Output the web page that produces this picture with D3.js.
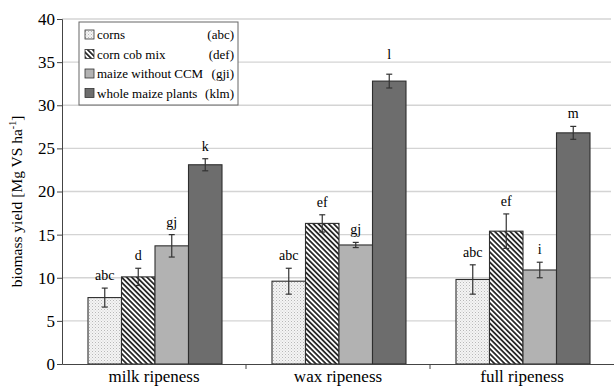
<!DOCTYPE html>
<html>
<head>
<meta charset="utf-8">
<script src="https://cdn.jsdelivr.net/npm/d3@7"></script>
<style>
  body { margin: 0; background: #fff; }
  text { font-family: "Liberation Serif", "DejaVu Serif", serif; fill: #000; }
</style>
</head>
<body>
<svg id="chart" width="614" height="388"></svg>
<script>
// data
const stages = ["milk ripeness", "wax ripeness", "full ripeness"];
const fractions = ["corns", "corn cob mix", "maize without CCM", "whole maize plants"];
const groupTags = ["(abc)", "(def)", "(gji)", "(klm)"];
const yieldCorns = [7.7, 9.6, 9.8];
const yieldCcm = [10.1, 16.3, 15.4];
const yieldMaize = [13.7, 13.8, 10.9];
const yieldWhole = [23.1, 32.8, 26.8];
const errCorns = [1.1, 1.5, 1.7];
const errCcm = [1.0, 1.0, 2.0];
const errMaize = [1.3, 0.3, 0.9];
const errWhole = [0.7, 0.8, 0.75];
const letters = [
  ["abc", "d", "gj", "k"],
  ["abc", "ef", "gj", "l"],
  ["abc", "ef", "i", "m"]
];
const yTicks = [0, 5, 10, 15, 20, 25, 30, 35, 40];

const values = [yieldCorns, yieldCcm, yieldMaize, yieldWhole];
const errors = [errCorns, errCcm, errMaize, errWhole];

const svg = d3.select("#chart");
const margin = { left: 62, right: 0, top: 19, bottom: 24 };
const W = 614, H = 388;

// fill patterns
const defs = svg.append("defs");
const dots = defs.append("pattern").attr("id", "dots")
  .attr("patternUnits", "userSpaceOnUse").attr("width", 3).attr("height", 3);
dots.append("rect").attr("width", 3).attr("height", 3).attr("fill", "#f4f4f4");
dots.append("rect").attr("x", 0).attr("y", 0).attr("width", 1).attr("height", 1).attr("fill", "#b8b8b8");
dots.append("rect").attr("x", 1.5).attr("y", 1.5).attr("width", 1).attr("height", 1).attr("fill", "#cfcfcf");

const stripes = defs.append("pattern").attr("id", "stripes")
  .attr("patternUnits", "userSpaceOnUse").attr("width", 3.6).attr("height", 3.6)
  .attr("patternTransform", "rotate(-45)");
stripes.append("rect").attr("width", 3.6).attr("height", 3.6).attr("fill", "#fff");
stripes.append("rect").attr("x", 0).attr("width", 1.8).attr("height", 3.6).attr("fill", "#2a2a2a");

const fills = ["url(#dots)", "url(#stripes)", "#b2b2b2", "#6d6d6d"];

const x = d3.scaleBand().domain(stages).range([margin.left, W - margin.right]).paddingInner(0).paddingOuter(0);
const xi = d3.scaleBand().domain(fractions).range([26, x.bandwidth() - 24]).padding(0);
const y = d3.scaleLinear().domain([0, 40]).range([H - margin.bottom, margin.top]);

// grid
svg.append("g").selectAll("line").data(yTicks.filter(d => d > 0)).join("line")
  .attr("x1", margin.left).attr("x2", W - 3)
  .attr("y1", d => y(d)).attr("y2", d => y(d))
  .attr("stroke", "#d4d4d4").attr("stroke-width", 1.3);

// bars
const groups = svg.append("g").selectAll("g").data(stages).join("g")
  .attr("transform", d => `translate(${x(d)},0)`);

groups.each(function (stage, si) {
  const g = d3.select(this);
  fractions.forEach((f, fi) => {
    const v = values[fi][si], e = errors[fi][si];
    const bx = xi(f), bw = xi.bandwidth();
    g.append("rect")
      .attr("x", bx).attr("y", y(v))
      .attr("width", bw).attr("height", y(0) - y(v))
      .attr("fill", fills[fi]).attr("stroke", "#2e2e2e").attr("stroke-width", 1.1);
    const cx = bx + bw / 2;
    g.append("line").attr("x1", cx).attr("x2", cx)
      .attr("y1", y(v - e)).attr("y2", y(v + e)).attr("stroke", "#333").attr("stroke-width", 1.2);
    [v - e, v + e].forEach(t => g.append("line")
      .attr("x1", cx - 3).attr("x2", cx + 3).attr("y1", y(t)).attr("y2", y(t))
      .attr("stroke", "#333").attr("stroke-width", 1.2));
    const ly = fi === 3 && si === 1 ? y(v + e) - 15 : y(v + e) - 8;
    g.append("text").attr("x", cx).attr("y", ly)
      .attr("text-anchor", "middle").attr("font-size", 14)
      .text(letters[si][fi]);
  });
});

// axes
const yAxis = d3.axisLeft(y).tickValues(yTicks).tickSize(5).tickPadding(2);
const ya = svg.append("g").attr("transform", `translate(${margin.left},0)`).call(yAxis);
ya.select(".domain").attr("stroke", "#444");
ya.selectAll(".tick line").attr("stroke", "#444");
ya.selectAll(".tick text").attr("font-size", 17).attr("fill", "#000");

const xAxis = d3.axisBottom(x).tickSize(0).tickPadding(6);
const xa = svg.append("g").attr("transform", `translate(0,${y(0)})`).call(xAxis);
xa.select(".domain").attr("stroke", "#444");
xa.selectAll(".tick text").attr("font-size", 17).attr("fill", "#000");
// category separators
xa.append("g").selectAll("line").data(stages.slice(1)).join("line")
  .attr("x1", d => x(d)).attr("x2", d => x(d)).attr("y1", 0).attr("y2", 5)
  .attr("stroke", "#444");

// y title
const yt = svg.append("text")
  .attr("transform", `translate(22,${(y(0) + y(40)) / 2 + 10}) rotate(-90)`)
  .attr("text-anchor", "middle").attr("font-size", 15.5);
yt.append("tspan").text("biomass yield [Mg VS ha");
yt.append("tspan").attr("dy", -6).attr("font-size", 10).text("-1");
yt.append("tspan").attr("dy", 6).text("]");

// legend
const lg = svg.append("g").attr("transform", "translate(79,22)");
lg.append("rect").attr("width", 159).attr("height", 83)
  .attr("fill", "#fff").attr("stroke", "#666").attr("stroke-width", 1);
fractions.forEach((f, i) => {
  const ry = 17 + i * 19.5;
  lg.append("rect").attr("x", 6).attr("y", ry - 9).attr("width", 9).attr("height", 9)
    .attr("fill", fills[i]).attr("stroke", "#333").attr("stroke-width", 0.8);
  lg.append("text").attr("x", 18).attr("y", ry).attr("font-size", 13).text(f);
  lg.append("text").attr("x", 155).attr("y", ry).attr("font-size", 13)
    .attr("text-anchor", "end").text(groupTags[i]);
});
</script>
</body>
</html>
